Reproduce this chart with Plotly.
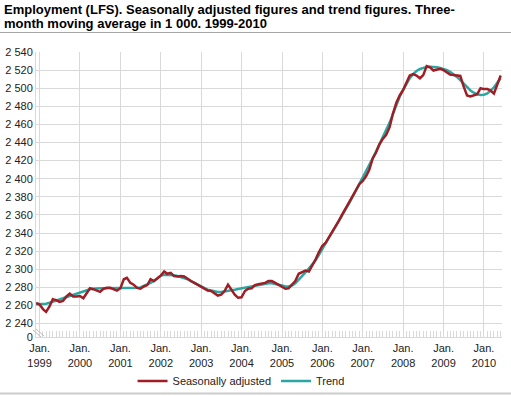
import pandas as pd
import plotly.graph_objects as go

# Monthly observations, Dec 1998 - Jun 2010 (1 000 persons)
start_month = "1998-12-01"
end_month = "2010-06-01"

seasonally_adjusted = [
    2263, 2261, 2256, 2253, 2259, 2267, 2266, 2264, 2265, 2270, 2273, 2270, 2270,   # Dec98-Dec99
    2270.5, 2268, 2273.5, 2279, 2278, 2276.5, 2275, 2278.5, 2279.5, 2279.5, 2278, 2276.5,  # 2000
    2279, 2289, 2290.5, 2285, 2283, 2279.5, 2278.5, 2281, 2282.5, 2289, 2287, 2289.5,  # 2001
    2293, 2297.5, 2295, 2296, 2292.5, 2292, 2292.5, 2292, 2289, 2287, 2285, 2283,  # 2002
    2281, 2278, 2276.5, 2276, 2274, 2271, 2272, 2276, 2283, 2278, 2272, 2268.5,  # 2003
    2269, 2276, 2278.5, 2279, 2282.5, 2283.5, 2284.5, 2285, 2287, 2287, 2285, 2283,  # 2004
    2280.5, 2278.5, 2279, 2282.5, 2287, 2295, 2297, 2298.5, 2297.5, 2304, 2311, 2319,  # 2005
    2326, 2329.5, 2335, 2341, 2347, 2354, 2361, 2368, 2374.5, 2381, 2388, 2394,  # 2006
    2397.5, 2403, 2410, 2422.5, 2429, 2438, 2444, 2448.5, 2457, 2472, 2484, 2492,  # 2007
    2498, 2505.5, 2514, 2515.5, 2514, 2511, 2514.5, 2524.5, 2523, 2519.5, 2520.5, 2521.5,  # 2008
    2520, 2517, 2515, 2514.5, 2514, 2513.5, 2502, 2492, 2491, 2492.5, 2493.5, 2500,  # 2009
    2499, 2499, 2497.5, 2494, 2504, 2514,  # Jan-Jun 2010
]

trend = [
    2261.5, 2261.5, 2261.5, 2262, 2263, 2264, 2265.3, 2266.6, 2268, 2269.3, 2270.6, 2272, 2273.3,
    2274.6, 2276, 2277.2, 2278, 2278.5, 2279, 2279, 2279, 2279, 2279, 2279, 2279,
    2279, 2279, 2279, 2279.2, 2279.4, 2279.6, 2280, 2281.5, 2283, 2285, 2287, 2290.5,
    2293, 2294, 2294, 2294, 2293.5, 2292.5, 2291.5, 2290.5, 2289, 2287, 2285, 2283,
    2281, 2279, 2277.5, 2276.5, 2275.5, 2275, 2275, 2275.5, 2276, 2276.8, 2277.5, 2278.3,
    2279, 2280, 2280.7, 2281.5, 2282.3, 2283, 2283.7, 2284.2, 2284.5, 2284.5, 2284, 2283,
    2282, 2281, 2281, 2282, 2284.5, 2288, 2292.5, 2296.5, 2301, 2305.5, 2310, 2316,
    2323, 2329, 2335, 2341, 2347, 2353.5, 2360, 2366.5, 2373, 2380, 2387, 2394,
    2401, 2408, 2415, 2422.5, 2430, 2437.5, 2446, 2454, 2462, 2472, 2482, 2490.5,
    2498, 2505, 2511, 2515.5, 2519, 2521.3, 2522.7, 2523.4, 2523.7, 2523.6, 2523.2, 2522.5,
    2521.5, 2520, 2518, 2515.5, 2512.5, 2509, 2505, 2501, 2497.5, 2495, 2493.3, 2492.6,
    2492.8, 2494.2, 2497, 2501, 2506, 2511,
]

months = pd.date_range(start_month, end_month, freq="MS")

tick_dates = ["1999-01-01", "2000-01-01", "2001-01-01", "2002-01-01", "2003-01-01",
              "2004-01-01", "2005-01-01", "2006-01-01", "2007-01-01", "2008-01-01",
              "2009-01-01", "2010-01-01"]
tick_years = ["1999", "2000", "2001", "2002", "2003", "2004", "2005", "2006",
              "2007", "2008", "2009", "2010"]
tick_labels = ["Jan.<br>" + y for y in tick_years]

y_tickvals = [2225.2, 2240, 2260, 2280, 2300, 2320, 2340, 2360, 2380, 2400, 2420,
              2440, 2460, 2480, 2500, 2520, 2540]
y_ticktext = ["0", "2 240", "2 260", "2 280", "2 300", "2 320", "2 340", "2 360",
              "2 380", "2 400", "2 420", "2 440", "2 460", "2 480", "2 500", "2 520", "2 540"]

title_lines = ["Employment (LFS). Seasonally adjusted figures and trend figures. Three-",
               "month moving average in 1 000. 1999-2010"]

FONT = "Liberation Sans, Arial, sans-serif"
RED = "#9f1d24"
TEAL = "#2ba7a3"
GRID = "#d9d9d9"

fig = go.Figure()
fig.add_trace(go.Scatter(x=months, y=trend, mode="lines", name="Trend",
                         line=dict(color=TEAL, width=2.5)))
fig.add_trace(go.Scatter(x=months, y=seasonally_adjusted, mode="lines",
                         name="Seasonally adjusted", line=dict(color=RED, width=2.5)))

x_range = ["1998-11-30", "2010-06-13"]

W, H = 511, 396
ML, MR, MT, MB = 36, 9, 52, 59
PW, PH = W - ML - MR, H - MT - MB


def px(xp):
    return (xp - ML) / PW


def py(yp):
    return (H - MB - yp) / PH


fig.update_layout(
    template="none",
    width=W, height=H,
    margin=dict(l=ML, r=MR, t=MT, b=MB, autoexpand=False),
    paper_bgcolor="white", plot_bgcolor="white",
    font=dict(family=FONT, size=11, color="#222"),
    showlegend=True,
    legend=dict(orientation="h", x=0.44, xanchor="center", y=py(381), yanchor="middle",
                font=dict(size=11, color="#222"), traceorder="reversed", itemwidth=30,
                bgcolor="rgba(0,0,0,0)"),
    xaxis=dict(type="date", range=x_range, tickmode="array", tickvals=tick_dates,
               ticktext=tick_labels, showgrid=True, gridcolor=GRID, gridwidth=1,
               showline=True, linecolor=GRID, linewidth=1, ticks="inside", ticklen=6,
               tickcolor=GRID, zeroline=False, automargin=False, ticklabelstandoff=1,
               minor=dict(dtick="M1", tick0="1999-01-01", ticks="inside", ticklen=6,
                          tickcolor=GRID, showgrid=False),
               tickfont=dict(size=11, color="#222")),
    yaxis=dict(range=[2225.2, 2540], tickmode="array", tickvals=y_tickvals,
               ticktext=y_ticktext, showgrid=True, gridcolor=GRID, gridwidth=1,
               showline=True, linecolor=GRID, linewidth=1, ticks="", zeroline=False,
               automargin=False, tickfont=dict(size=11, color="#222")),
    annotations=[
        dict(text="<b>%s</b>" % title_lines[0], xref="paper", yref="paper", x=px(2),
             y=py(9.5), xanchor="left", yanchor="middle", showarrow=False,
             font=dict(size=13, color="#000", family=FONT)),
        dict(text="<b>%s</b>" % title_lines[1], xref="paper", yref="paper", x=px(2),
             y=py(23.5), xanchor="left", yanchor="middle", showarrow=False,
             font=dict(size=13, color="#000", family=FONT)),
    ],
    shapes=[
        dict(type="line", xref="paper", yref="paper", x0=px(0), x1=px(W), y0=py(32.5),
             y1=py(32.5), line=dict(color="#a6a6a6", width=1)),
        dict(type="line", xref="paper", yref="paper", x0=px(0), x1=px(W), y0=py(393.5),
             y1=py(393.5), line=dict(color="#cccccc", width=2)),
        dict(type="line", xref="paper", yref="paper", x0=px(33), x1=px(41), y0=py(330),
             y1=py(337), line=dict(color="#bbbbbb", width=1)),
        dict(type="line", xref="paper", yref="paper", x0=px(36), x1=px(44), y0=py(329),
             y1=py(336), line=dict(color="#bbbbbb", width=1)),
    ],
)

fig.write_html("out.html",
               config={"displayModeBar": False},
               post_script="document.body.style.margin='0';document.body.style.overflow='hidden';")
